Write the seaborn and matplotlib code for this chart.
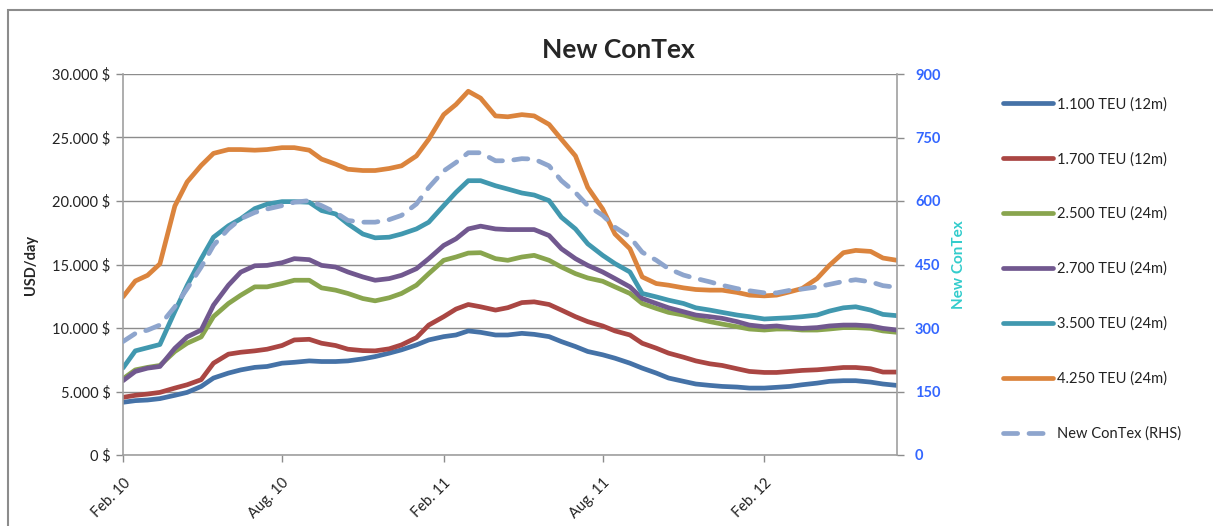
import seaborn as sns
import matplotlib.pyplot as plt
from matplotlib.ticker import FuncFormatter, MultipleLocator
from matplotlib.lines import Line2D
from matplotlib.patches import Rectangle
import pandas as pd

sns.set_style("white")
plt.rcParams['font.family'] = ['Lato', 'DejaVu Sans']

# semi-monthly readings, Feb 2010 - Jul 2012
dates = pd.date_range("2010-02-01", "2012-07-01", freq="SMS")

teu_1100 = [4150, 4280, 4330, 4440, 4700, 4930, 5400, 6060, 6450, 6700, 6900, 6970, 7230, 7300, 7410, 7360,
            7360, 7410, 7570, 7750, 8020, 8280, 8670, 9060, 9320, 9450, 9770, 9660, 9450, 9450, 9580, 9500,
            9320, 8930, 8540, 8150, 7890, 7620, 7230, 6840, 6450, 6060, 5800, 5590, 5480, 5400, 5350,
            5270, 5270, 5330, 5400, 5530, 5660, 5800, 5850, 5850, 5740, 5590, 5480]
teu_1700 = [4540, 4700, 4800, 4930, 5270, 5530, 5930, 7230, 7940, 8090, 8200, 8330, 8620, 9060, 9110, 8800,
            8620, 8330, 8220, 8200, 8360, 8670, 9240, 10230, 10890, 11490, 11850, 11670, 11410, 11600, 12000, 12060,
            11850, 11410, 10890, 10500, 10160, 9770, 9450, 8800, 8410, 8020, 7700, 7410, 7180, 7050, 6790,
            6580, 6500, 6500, 6580, 6660, 6710, 6790, 6890, 6890, 6790, 6530, 6530]
teu_2500 = [6000, 6700, 6900, 7050, 8150, 8800, 9300, 10900, 11930, 12580, 13240, 13240, 13500, 13760, 13760, 13160,
            12980, 12720, 12320, 12140, 12380, 12720, 13370, 14280, 15330, 15590, 15900, 15930, 15460, 15330, 15590, 15720,
            15330, 14800, 14280, 13940, 13680, 13240, 12720, 11930, 11540, 11230, 11020, 10760, 10500, 10310, 10100,
            9920, 9840, 9920, 9920, 9840, 9840, 9920, 10030, 10030, 9970, 9770, 9660]
teu_2700 = [5850, 6580, 6840, 6970, 8400, 9300, 9840, 11800, 13370, 14400, 14900, 14930, 15140, 15460, 15380, 14930,
            14800, 14410, 14020, 13760, 13890, 14150, 14670, 15460, 16500, 17020, 17800, 18020, 17800, 17750, 17750, 17750,
            17280, 16240, 15460, 14930, 14410, 13890, 13240, 12320, 11930, 11590, 11280, 11020, 10890, 10760, 10500,
            10230, 10100, 10160, 10030, 9970, 10030, 10160, 10230, 10230, 10160, 9970, 9840]
teu_3500 = [6850, 8200, 8450, 8700, 11300, 13350, 15450, 17150, 18050, 18600, 19400, 19750, 19950, 19950, 19900, 19250,
            18980, 18200, 17400, 17100, 17150, 17400, 17800, 18330, 19630, 20680, 21600, 21600, 21200, 20940, 20630, 20470,
            20030, 18720, 17800, 16630, 15720, 15070, 14410, 12720, 12450, 12190, 11930, 11590, 11410, 11230, 11020,
            10890, 10710, 10760, 10810, 10890, 11020, 11330, 11590, 11670, 11410, 11070, 10970]
teu_4250 = [12450, 13700, 14150, 15050, 19600, 21500, 22800, 23750, 24050, 24050, 24000, 24050, 24200, 24200, 24000, 23300,
            22900, 22500, 22400, 22400, 22560, 22770, 23550, 24860, 26800, 27600, 28640, 28100, 26700, 26630, 26800, 26700,
            26030, 24860, 23550, 21070, 19370, 17400, 16240, 14020, 13500, 13370, 13160, 13030, 12980, 12980, 12800,
            12590, 12530, 12590, 12850, 13110, 13890, 14930, 15930, 16110, 16030, 15510, 15330]
contex = [268, 287, 295, 307, 350, 393, 444, 495, 534, 558, 573, 581, 589, 597, 601, 589,
          573, 554, 550, 550, 556, 566, 593, 632, 671, 691, 714, 714, 695, 695, 700, 699,
          683, 648, 620, 589, 566, 538, 515, 479, 460, 440, 425, 417, 409, 401, 393,
          388, 383, 383, 389, 392, 397, 403, 410, 414, 409, 400, 396]

labels = ["1.100 TEU (12m)", "1.700 TEU (12m)", "2.500 TEU (24m)",
          "2.700 TEU (24m)", "3.500 TEU (24m)", "4.250 TEU (24m)"]
colors = ["#4572A7", "#AA4643", "#89A54E", "#71588F", "#4198AF", "#DB843D"]
contex_color = "#8EA5CD"
lw = 3.4
dash = (3.0, 2.4)

wide = pd.DataFrame(dict(zip(labels, [teu_1100, teu_1700, teu_2500, teu_2700, teu_3500, teu_4250])))
wide["date"] = dates
df = wide.melt(id_vars="date", var_name="vessel", value_name="usd")
df_idx = pd.DataFrame({"date": dates, "index": contex})

fig = plt.figure(figsize=(12.13, 5.26), dpi=100)
ax = fig.add_axes([123 / 1213, 1 - 455 / 526, (897 - 123) / 1213, (455 - 74) / 526])

sns.lineplot(data=df, x="date", y="usd", hue="vessel", palette=colors, hue_order=labels,
             linewidth=lw, ax=ax, legend=False)
ax2 = ax.twinx()
sns.lineplot(data=df_idx, x="date", y="index", color=contex_color, linewidth=lw, ax=ax2,
             legend=False)
cl = ax2.get_lines()[0]
cl.set_dashes(dash)
cl.set_dash_capstyle("round")
for ln in ax.get_lines():
    ln.set_solid_capstyle("round")

ax.set_xlim(pd.Timestamp("2010-02-01"), pd.Timestamp("2012-07-01"))
ax.set_ylim(0, 30000)
ax2.set_ylim(0, 900)
ax.yaxis.set_major_locator(MultipleLocator(5000))
ax2.yaxis.set_major_locator(MultipleLocator(150))
ax.yaxis.set_major_formatter(FuncFormatter(lambda v, p: f"{int(v):,}".replace(",", ".") + " $"))

ticks = pd.to_datetime(["2010-02-01", "2010-08-01", "2011-02-01", "2011-08-01", "2012-02-01"])
ax.set_xticks(ticks)
ax.set_xticklabels(["Feb. 10", "Aug. 10", "Feb. 11", "Aug. 11", "Feb. 12"], rotation=45,
                   ha="right", rotation_mode="anchor", fontsize=10.5, color="#222222")

ax.grid(axis="y", color="#8C8C8C", linewidth=1.0)
ax.set_axisbelow(True)
for s in ["top", "right"]:
    ax.spines[s].set_visible(False)
for s in ["top", "left", "bottom"]:
    ax2.spines[s].set_visible(False)
for sp in [ax.spines["left"], ax.spines["bottom"], ax2.spines["right"]]:
    sp.set_color("#A0A0A0")
    sp.set_linewidth(1.2)
ax.tick_params(axis="both", direction="out", length=5, color="#8C8C8C", width=1, left=True, bottom=True)
ax.tick_params(axis="y", labelsize=10.5, labelcolor="#222222", pad=4)
ax.tick_params(axis="x", pad=10)
ax2.tick_params(axis="y", direction="out", length=5, color="#8C8C8C", width=1, right=True,
                labelsize=10.5, labelcolor="#3366FF", pad=8)
for t in ax2.get_yticklabels():
    t.set_fontweight("bold")

ax.set_xlabel("")
ax.set_ylabel("USD/day", fontsize=10.5, fontweight="bold", labelpad=10)
ax2.set_ylabel("New ConTex", fontsize=11, fontweight="bold", color="#33CCCC", labelpad=8)

fig.text(618 / 1213, 1 - 50 / 526, "New ConTex", ha="center", va="center",
         fontsize=19, fontweight="bold")

handles = [Line2D([], [], color=c, linewidth=lw, solid_capstyle="round") for c in colors]
handles.append(Line2D([], [], color=contex_color, linewidth=lw, dashes=dash, dash_capstyle="round"))
fig.legend(handles, labels + ["New ConTex (RHS)"], loc="upper left",
           bbox_to_anchor=(1003 / 1213, 1 - 97 / 526), frameon=False, fontsize=10.5,
           handlelength=3.4, handletextpad=0.3, labelspacing=2.78, borderpad=0, borderaxespad=0,
           labelcolor="#222222")

# chart-area border: left, top (open on the right)
fig.add_artist(Rectangle((8 / 1213, -0.05), 1.1, 1.05 - 10 / 526, transform=fig.transFigure,
                         fill=False, edgecolor="#8C8C8C", linewidth=1.5))

fig.savefig("out.png", dpi=100)
